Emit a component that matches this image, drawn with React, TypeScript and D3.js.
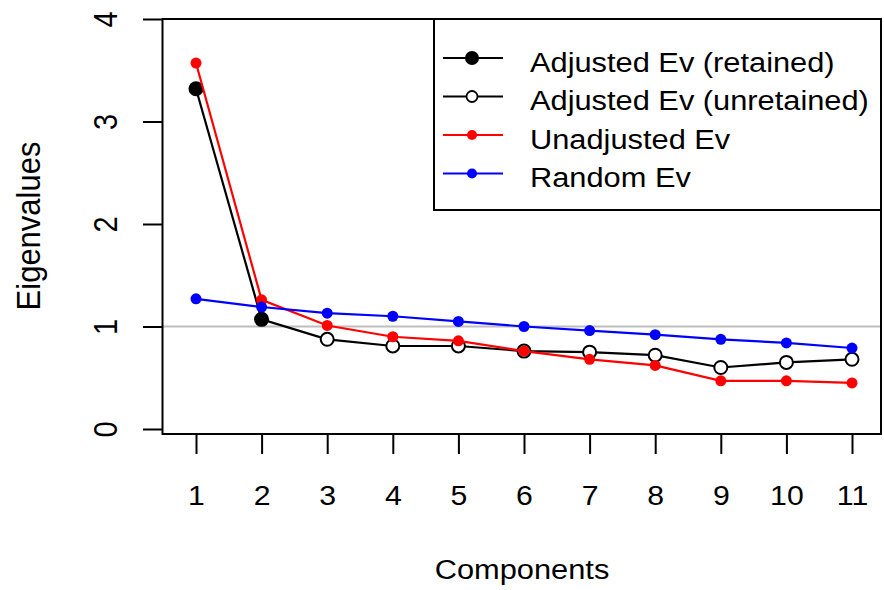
import React, { useRef, useEffect } from 'react';
import { select, scaleLinear, axisBottom, axisLeft, line } from 'd3';

const components = [1, 2, 3, 4, 5, 6, 7, 8, 9, 10, 11];
const adjustedEv = [3.32, 1.07, 0.875, 0.81, 0.81, 0.76, 0.75, 0.72, 0.6, 0.65, 0.68];
const unadjustedEv = [3.57, 1.26, 1.01, 0.9, 0.86, 0.76, 0.68, 0.62, 0.47, 0.47, 0.45];
const randomEv = [1.27, 1.19, 1.13, 1.1, 1.05, 1.0, 0.96, 0.92, 0.875, 0.84, 0.79];
const retained = 2;
const yTicks = [0, 1, 2, 3, 4];
const legendLabels = [
  'Adjusted Ev (retained)',
  'Adjusted Ev (unretained)',
  'Unadjusted Ev',
  'Random Ev',
];

const FONT = '"Liberation Sans", Arial, sans-serif';

function App() {
  const svgRef: any = useRef();

  useEffect(() => {
    const svg = select(svgRef.current);
    svg.selectAll('*').remove();

    const left = 162.5;
    const right = 881;
    const top = 19;
    const bottom = 434;

    const xScale: any = scaleLinear().domain([1, 11]).range([196, 852]);
    const yScale: any = scaleLinear().domain([0, 4]).range([429, 19]);

    // reference line at 1
    svg
      .append('line')
      .attr('x1', left)
      .attr('x2', right)
      .attr('y1', yScale(1))
      .attr('y2', yScale(1))
      .attr('stroke', '#bebebe')
      .attr('stroke-width', 2);

    const mkLine = line<number>()
      .x((d: any, i: number) => xScale(components[i]))
      .y((d: any) => yScale(d));

    // adjusted
    svg
      .append('path')
      .attr('d', mkLine(adjustedEv))
      .attr('fill', 'none')
      .attr('stroke', '#000')
      .attr('stroke-width', 2.2);
    svg
      .selectAll('.adj')
      .data(adjustedEv)
      .join('circle')
      .attr('class', 'adj')
      .attr('cx', (d: any, i: number) => xScale(components[i]))
      .attr('cy', (d: any) => yScale(d))
      .attr('r', (d: any, i: number) => (i < retained ? 7.5 : 6.5))
      .attr('fill', (d: any, i: number) => (i < retained ? '#000' : '#fff'))
      .attr('stroke', '#000')
      .attr('stroke-width', (d: any, i: number) => (i < retained ? 0 : 2));

    // unadjusted + random
    const series: any[] = [
      [unadjustedEv, '#ff0000'],
      [randomEv, '#0000ff'],
    ];
    series.forEach(([vals, col]: any, k: number) => {
      svg
        .append('path')
        .attr('d', mkLine(vals))
        .attr('fill', 'none')
        .attr('stroke', col)
        .attr('stroke-width', 2.2);
      svg
        .selectAll('.pt' + k)
        .data(vals)
        .join('circle')
        .attr('class', 'pt' + k)
        .attr('cx', (d: any, i: number) => xScale(components[i]))
        .attr('cy', (d: any) => yScale(d))
        .attr('r', 5.5)
        .attr('fill', col);
    });

    // box
    svg
      .append('rect')
      .attr('x', left)
      .attr('y', top)
      .attr('width', right - left)
      .attr('height', bottom - top)
      .attr('fill', 'none')
      .attr('stroke', '#000')
      .attr('stroke-width', 2);

    // x axis
    const xAxis: any = axisBottom(xScale).tickValues(components).tickSize(20).tickPadding(32);
    const gx = svg.append('g').attr('transform', `translate(0,${bottom})`).call(xAxis);
    gx.select('.domain').remove();
    gx.selectAll('line').attr('stroke', '#000').attr('stroke-width', 2);
    gx.selectAll('text')
      .attr('font-family', FONT)
      .attr('font-size', 27)
      .attr('fill', '#000')
      .attr('transform', 'scale(1.12,1)');

    // y axis
    const yAxis: any = axisLeft(yScale)
      .tickValues(yTicks)
      .tickSize(19.5)
      .tickFormat((d: any) => String(d));
    const gy = svg.append('g').attr('transform', `translate(${left},0)`).call(yAxis);
    gy.select('.domain').remove();
    gy.selectAll('line').attr('stroke', '#000').attr('stroke-width', 2);
    gy.selectAll('text')
      .attr('font-family', FONT)
      .attr('font-size', 29)
      .attr('fill', '#000')
      .attr('x', 0)
      .attr('dy', 0)
      .attr('text-anchor', 'middle')
      .attr('transform', 'translate(-45.5,0) scale(1.12,1) rotate(-90)');

    // titles
    svg
      .append('text')
      .attr('transform', 'translate(522,579) scale(1.1,1)')
      .attr('text-anchor', 'middle')
      .attr('font-family', FONT)
      .attr('font-size', 28)
      .text('Components');
    svg
      .append('text')
      .attr('transform', 'translate(40,226) scale(1.05,1) rotate(-90)')
      .attr('text-anchor', 'middle')
      .attr('font-family', FONT)
      .attr('font-size', 31)
      .text('Eigenvalues');

    // legend
    const lg = svg.append('g');
    lg.append('rect')
      .attr('x', 434)
      .attr('y', top)
      .attr('width', right - 434)
      .attr('height', 191)
      .attr('fill', '#fff')
      .attr('stroke', '#000')
      .attr('stroke-width', 2);
    const legendStyles: any[] = [
      ['#000', '#000', 7, 0],
      ['#000', '#fff', 5.5, 1.8],
      ['#ff0000', '#ff0000', 5, 0],
      ['#0000ff', '#0000ff', 5, 0],
    ];
    legendLabels.forEach((lab, i) => {
      const y = 58 + i * 38.5;
      const [col, fill, r, sw] = legendStyles[i];
      lg.append('line')
        .attr('x1', 443)
        .attr('x2', 503)
        .attr('y1', y)
        .attr('y2', y)
        .attr('stroke', col)
        .attr('stroke-width', 2);
      lg.append('circle')
        .attr('cx', 472)
        .attr('cy', y)
        .attr('r', r)
        .attr('fill', fill)
        .attr('stroke', '#000')
        .attr('stroke-width', sw);
      lg.append('text')
        .attr('transform', `translate(530,${y + 13.5}) scale(1.1,1)`)
        .attr('font-family', FONT)
        .attr('font-size', 28)
        .text(lab);
    });
  }, []);

  return (
    <svg
      ref={svgRef}
      width={884}
      height={590}
      style={{ position: 'absolute', left: 0, top: 0, background: '#fff' }}
    />
  );
}

export default App;
